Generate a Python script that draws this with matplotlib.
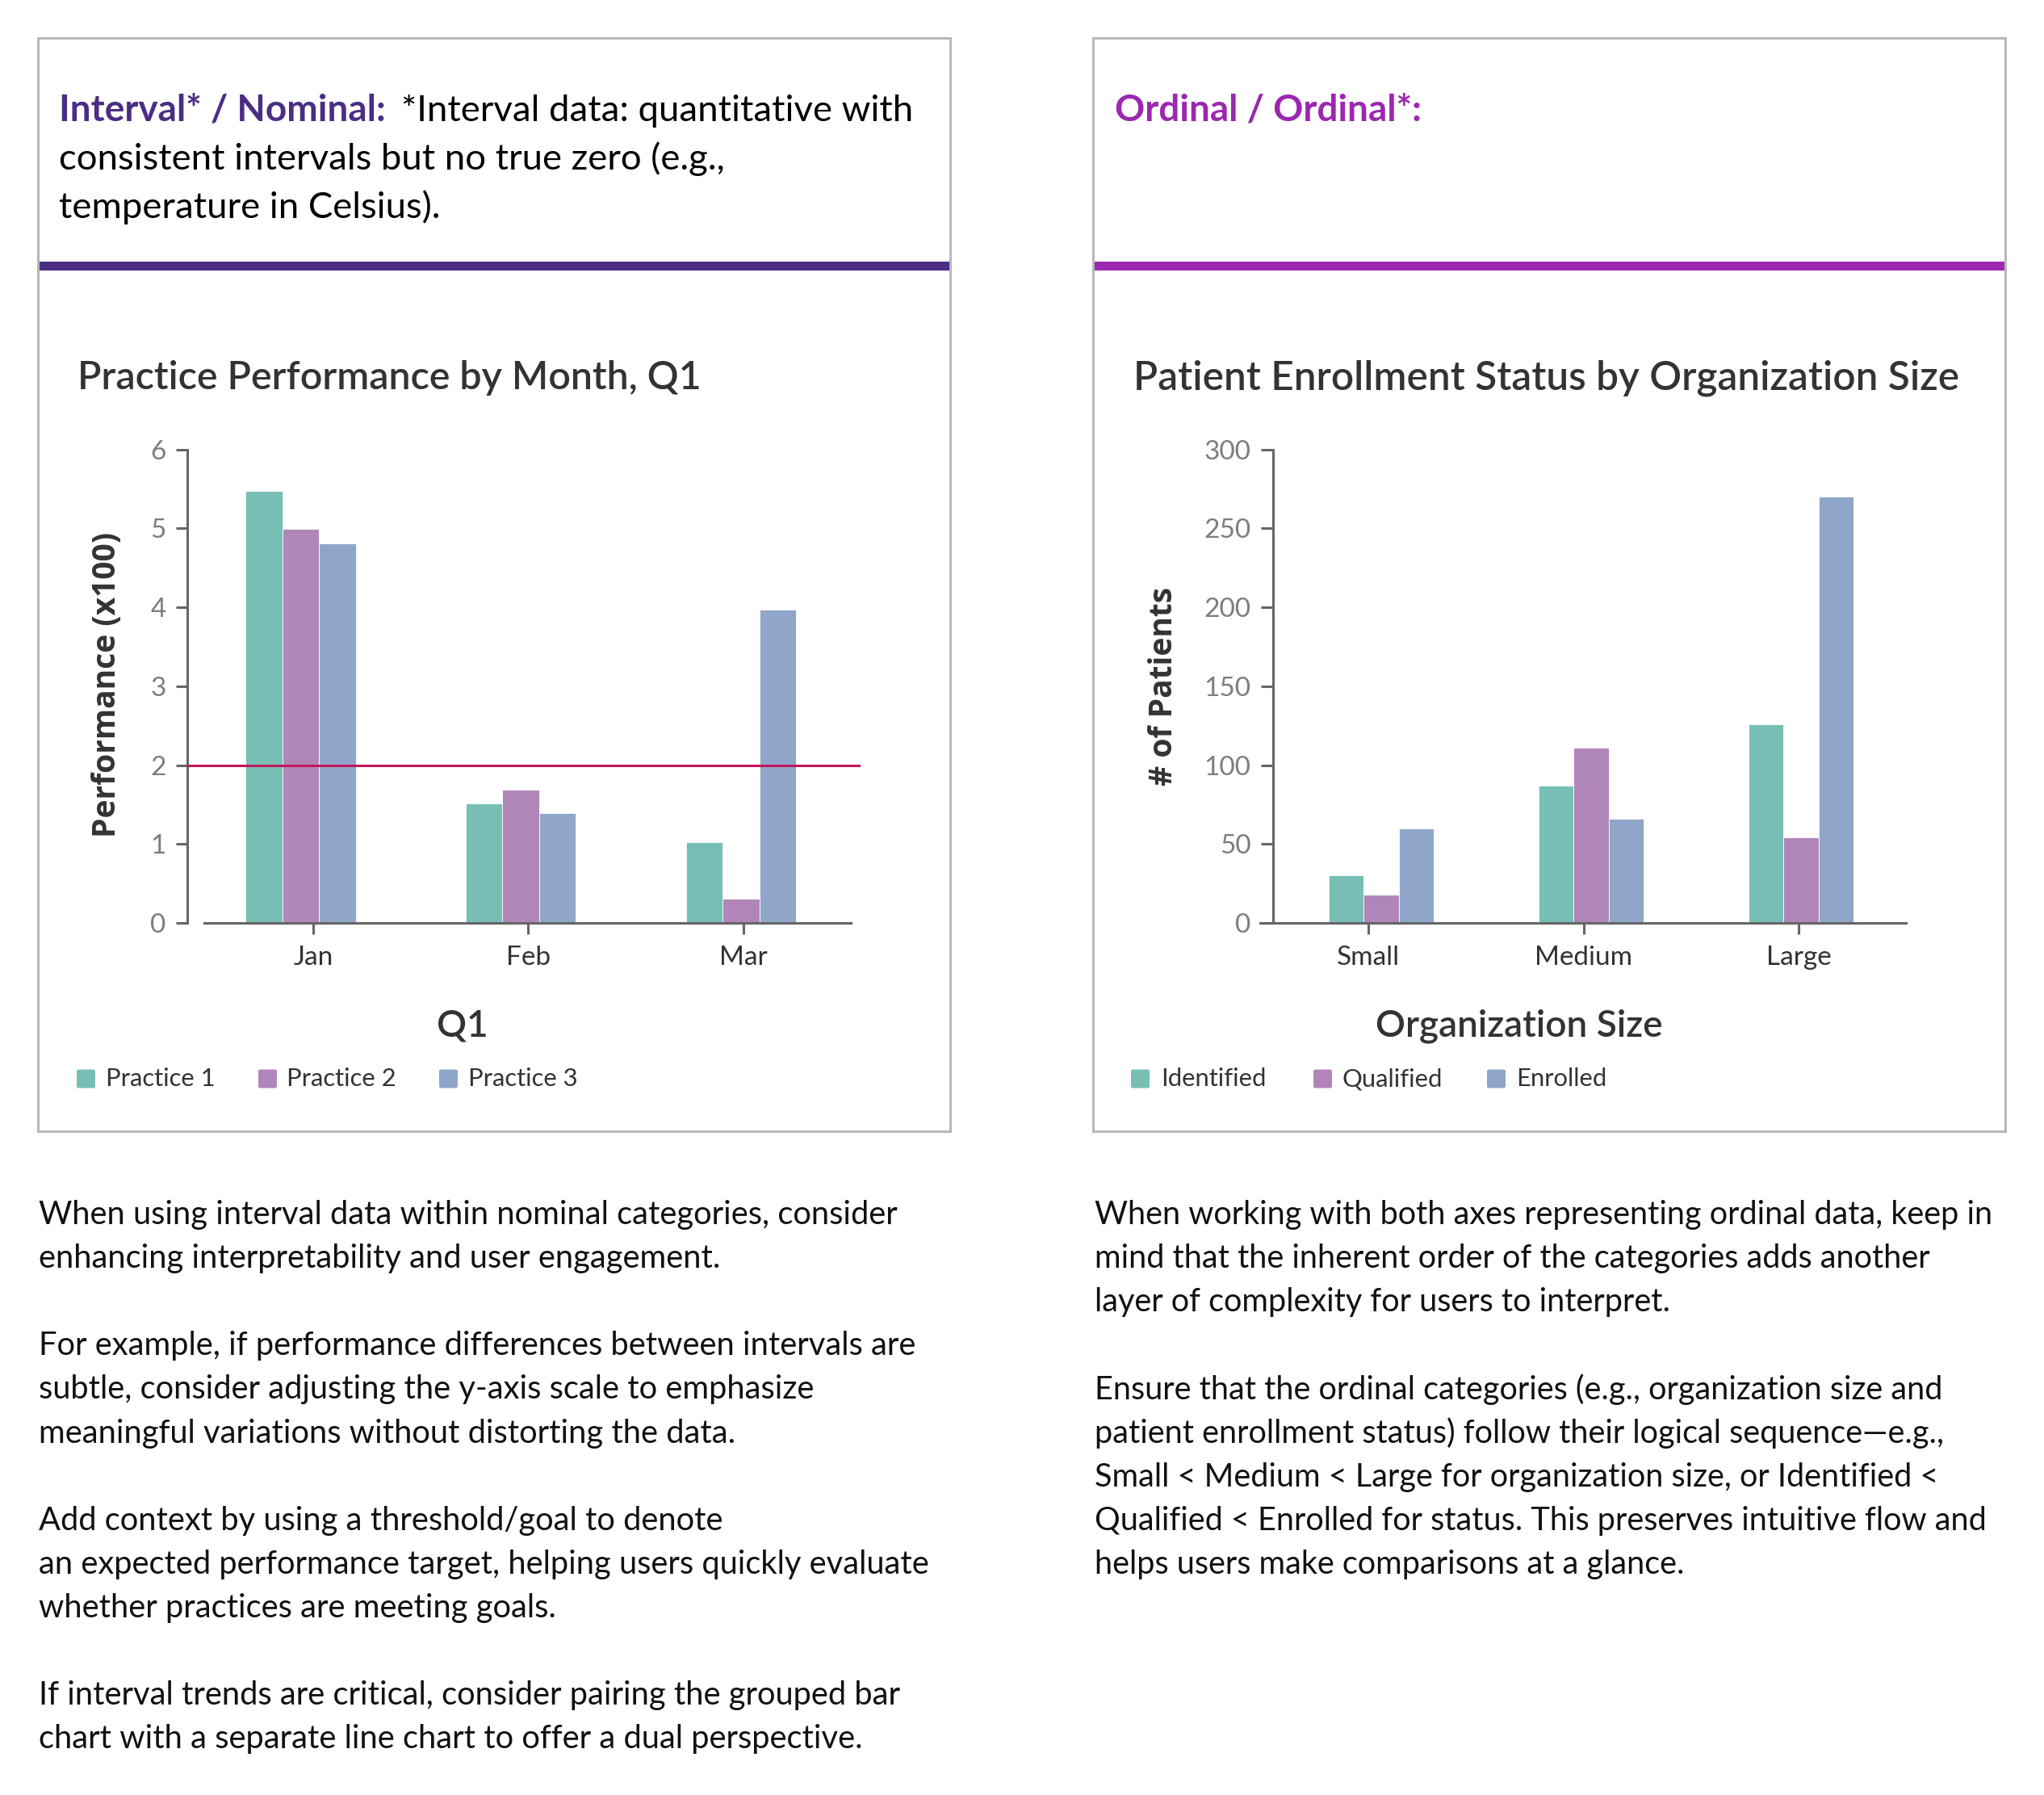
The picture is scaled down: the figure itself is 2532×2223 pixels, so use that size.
import matplotlib
matplotlib.use('Agg')
import matplotlib.pyplot as plt
from matplotlib.patches import Rectangle, FancyBboxPatch

W, H = 2532, 2223
plt.rcParams['font.family'] = ['Lato', 'DejaVu Sans']

# ---------------- data ----------------
months = ['Jan', 'Feb', 'Mar']
practice_names = ['Practice 1', 'Practice 2', 'Practice 3']
practice_1 = [5.47, 1.51, 1.02]
practice_2 = [4.99, 1.69, 0.31]
practice_3 = [4.81, 1.39, 3.97]
performance_goal = 2.0
perf_yticks = [0, 1, 2, 3, 4, 5, 6]

org_sizes = ['Small', 'Medium', 'Large']
status_names = ['Identified', 'Qualified', 'Enrolled']
identified = [30, 87, 126]
qualified = [18, 111, 54]
enrolled = [60, 66, 270]
patient_yticks = [0, 50, 100, 150, 200, 250, 300]

left_title = 'Practice Performance by Month, Q1'
right_title = 'Patient Enrollment Status by Organization Size'
left_xlabel = 'Q1'
right_xlabel = 'Organization Size'
left_ylabel = 'Performance (x100)'
right_ylabel = '# of Patients'

left_head_bold = 'Interval* / Nominal:'
left_head_lines = ['*Interval data: quantitative with',
                   'consistent intervals but no true zero (e.g.,',
                   'temperature in Celsius).']
right_head_bold = 'Ordinal / Ordinal*:'

left_body = ['When using interval data within nominal categories, consider',
             'enhancing interpretability and user engagement.',
             '',
             'For example, if performance differences between intervals are',
             'subtle, consider adjusting the y-axis scale to emphasize',
             'meaningful variations without distorting the data.',
             '',
             'Add context by using a threshold/goal to denote',
             'an expected performance target, helping users quickly evaluate',
             'whether practices are meeting goals.',
             '',
             'If interval trends are critical, consider pairing the grouped bar',
             'chart with a separate line chart to offer a dual perspective.']
right_body = ['When working with both axes representing ordinal data, keep in',
              'mind that the inherent order of the categories adds another',
              'layer of complexity for users to interpret.',
              '',
              'Ensure that the ordinal categories (e.g., organization size and',
              'patient enrollment status) follow their logical sequence\u2014e.g.,',
              'Small < Medium < Large for organization size, or Identified <',
              'Qualified < Enrolled for status. This preserves intuitive flow and',
              'helps users make comparisons at a glance.']

# ---------------- style ----------------
bar_colors = ['#77BFB5', '#B086B8', '#90A5CA']
left_accent = '#4B2D83'
right_accent = '#9C27B0'
goal_color = '#C2185B'
box_color = '#B8B8B8'
spine_color = '#666666'

fig = plt.figure(figsize=(W / 100, H / 100), dpi=100)
fig.patch.set_facecolor('white')
renderer = fig.canvas.get_renderer()


def ftext(x, y, s, size=20, width=None, height=None, **kw):
    t = fig.text(x / W, 1 - y / H, s, fontsize=size, **kw)
    if width is not None or height is not None:
        bb = t.get_window_extent(renderer)
        if width is not None:
            t.set_fontsize(size * width / bb.width)
        else:
            t.set_fontsize(size * height / bb.height)
    return t


def fig_rect(x0, y0, x1, y1, **kw):
    r = Rectangle((x0 / W, 1 - y1 / H), (x1 - x0) / W, (y1 - y0) / H,
                  transform=fig.transFigure, **kw)
    fig.add_artist(r)
    return r


# ---------------- boxes and header bars ----------------
for bx0, accent in [(47, left_accent), (1354, right_accent)]:
    fig_rect(bx0, 324, bx0 + 1130, 335, facecolor=accent, edgecolor='none', zorder=1)
    fig_rect(bx0, 47, bx0 + 1130, 1401, fill=False, edgecolor=box_color, linewidth=2.2, zorder=2)

# header texts
HY = 137
hb = ftext(73, HY, left_head_bold, size=30, width=405, color=left_accent,
           fontweight='bold', va='center', ha='left')
ref = ftext(73, HY + 60, left_head_lines[1], size=30, width=823, color='black', va='center', ha='left')
head_size = ref.get_fontsize()
ftext(497, HY, left_head_lines[0], size=head_size, color='black', va='center', ha='left')
ftext(73, HY + 119.5, left_head_lines[2], size=head_size, color='black', va='center', ha='left')
ftext(1381, HY, right_head_bold, size=hb.get_fontsize(), color=right_accent,
      fontweight='bold', va='center', ha='left')

# chart titles
ftext(96, 468, left_title, size=30, width=773, color='#333333',
      fontweight='semibold', va='center', ha='left')
ftext(1404, 468, right_title, size=30, width=1020, color='#333333',
      fontweight='semibold', va='center', ha='left')

# ---------------- axes ----------------
Y0, Y1 = 1143, 556.7


def make_axes(x_left, xmin, xmax, spacing):
    width = (xmax - xmin) * spacing
    ax = fig.add_axes([x_left / W, 1 - Y0 / H, width / W, (Y0 - Y1) / H])
    ax.set_xlim(xmin, xmax)
    ax.patch.set_alpha(0)
    for s in ['top', 'right']:
        ax.spines[s].set_visible(False)
    for s in ['left', 'bottom']:
        ax.spines[s].set_color(spine_color)
        ax.spines[s].set_linewidth(2.2)
    ax.tick_params(axis='y', length=10, width=2.2, color=spine_color, pad=9,
                   labelsize=24, labelcolor='#7d7d7d')
    ax.tick_params(axis='x', length=10, width=2.2, color=spine_color, pad=10,
                   labelsize=24, labelcolor='#333333')
    return ax


def grouped_bars(ax, series):
    n = len(series)
    w = 1 / 6
    for i, vals in enumerate(series):
        xs = [k + (i - (n - 1) / 2) * w for k in range(len(vals))]
        ax.bar(xs, vals, width=w, color=bar_colors[i], edgecolor='#ffffff',
               linewidth=0.6, zorder=2)


# left chart: group spacing 272.75 px, centre of Jan group at 372.5 px
axL = make_axes(232, -0.515, 2.543, 272.75)
grouped_bars(axL, [practice_1, practice_2, practice_3])
axL.axhline(performance_goal, color=goal_color, linewidth=2.2, zorder=3)
axL.set_ylim(0, 6)
axL.spines['left'].set_bounds(0, 6)
axL.spines['bottom'].set_bounds(-0.438, 2.5)
axL.set_yticks(perf_yticks)
axL.set_yticklabels([str(v) for v in perf_yticks])
axL.set_xticks([0.057, 1.033, 2.011])
axL.set_xticklabels(months)

# right chart: group spacing 260 px, centre of Small group at 1711 px
axR = make_axes(1561, -0.577, 2.55, 260)
grouped_bars(axR, [identified, qualified, enrolled])
axR.set_ylim(0, 300)
axR.spines['left'].set_position(('data', -0.515))
axR.spines['left'].set_bounds(0, 300)
axR.spines['bottom'].set_bounds(-0.577, 2.5)
axR.set_yticks(patient_yticks)
axR.set_yticklabels([str(v) for v in patient_yticks])
axR.set_xticks([-0.062, 0.965, 1.988])
axR.set_xticklabels(org_sizes)
axR.tick_params(axis='y', length=11)

# axis labels
yl = ftext(132, 848, left_ylabel, size=26, height=379, rotation=90, color='#333333',
           fontweight='bold', family=['Open Sans', 'DejaVu Sans'], va='center', ha='center')
ftext(1442, 850, right_ylabel, size=yl.get_fontsize(), rotation=90, color='#333333',
      fontweight='bold', family=['Open Sans', 'DejaVu Sans'], va='center', ha='center')
xl = ftext(1882, 1271, right_xlabel, size=28, width=357, color='#333333',
           fontweight='semibold', va='center', ha='center')
ftext(573, 1271, left_xlabel, size=xl.get_fontsize(), color='#333333',
      fontweight='semibold', va='center', ha='center')

# legends
LEG_Y = 1336
SQ = 23
leg_size = None
for names, sq_x, tx_x in [(practice_names, [95, 320, 544], [131, 355, 580]),
                          (status_names, [1401, 1627, 1842], [1438, 1663, 1878])]:
    for i, name in enumerate(names):
        p = FancyBboxPatch(((sq_x[i]) / W, 1 - (LEG_Y + SQ / 2) / H), SQ / W, SQ / H,
                           boxstyle='round,pad=0,rounding_size=0.001',
                           transform=fig.transFigure, facecolor=bar_colors[i],
                           edgecolor='none')
        fig.add_artist(p)
        if leg_size is None:
            t = ftext(tx_x[i], LEG_Y, name, size=20, width=136, color='#333333',
                      va='center', ha='left')
            leg_size = t.get_fontsize()
        else:
            ftext(tx_x[i], LEG_Y, name, size=leg_size, color='#333333',
                  va='center', ha='left')

# body text
LINE0, LSTEP = 1504.5, 54.1
for x0, lines, fitw in [(48.5, left_body, 1062), (1356, right_body, 1109)]:
    body_size = None
    for k, line in enumerate(lines):
        if not line:
            continue
        y = LINE0 + k * LSTEP
        if body_size is None:
            t = ftext(x0, y, line, size=22, width=fitw, color='#111111', va='center', ha='left')
            body_size = t.get_fontsize()
        else:
            ftext(x0, y, line, size=body_size, color='#111111', va='center', ha='left')

fig.savefig('out.png', dpi=100, facecolor='white')
